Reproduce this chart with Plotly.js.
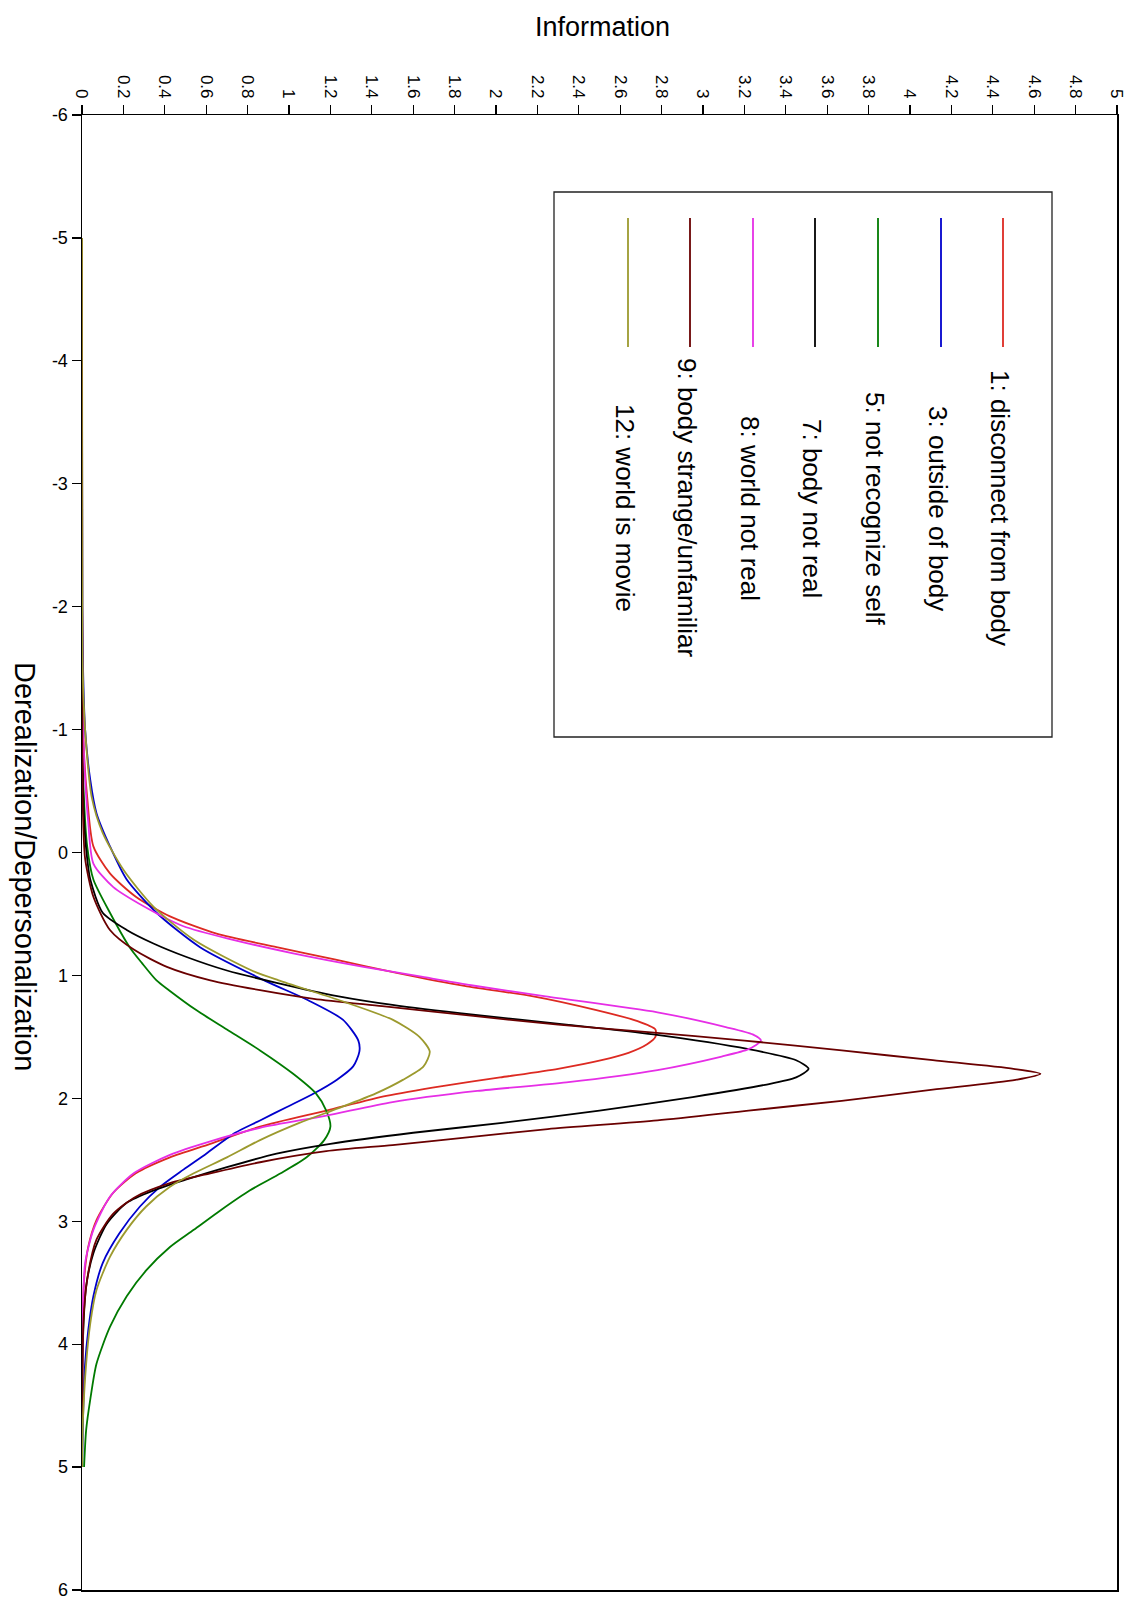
<!DOCTYPE html>
<html>
<head>
<meta charset="utf-8">
<script src="https://cdn.plot.ly/plotly-3.0.1.min.js"></script>
<style>
  html, body { margin: 0; padding: 0; background: #ffffff; }
  #chart { width: 1140px; height: 1606px; }
</style>
</head>
<body>
<div id="chart"></div>
<script>
// ---------------- data ----------------
const itemLabels = [
  "1: disconnect from body",
  "3: outside of body",
  "5: not recognize self",
  "7: body not real",
  "8: world not real",
  "9: body strange/unfamiliar",
  "12: world is movie"
];
const itemColors = ["#dd2a22", "#0000cc", "#007a00", "#000000", "#e62ee6", "#6a0000", "#9c9a2e"];

// item 1: disconnect from body
const theta1 = [-5, -2, -1.2, -0.8, -0.45, -0.05, 0.17, 0.36, 0.52, 0.66, 0.77, 0.87, 0.98, 1.09, 1.17, 1.28, 1.37, 1.44, 1.50, 1.56, 1.63, 1.69, 1.76, 1.83, 1.90, 1.98, 2.10, 2.23, 2.37, 2.48, 2.61, 2.77, 2.99, 3.21, 3.48, 3.9, 4.5, 5];
const info1  = [0, 0.001, 0.004, 0.01, 0.025, 0.055, 0.135, 0.26, 0.425, 0.65, 0.94, 1.22, 1.52, 1.86, 2.18, 2.48, 2.68, 2.77, 2.77, 2.73, 2.64, 2.51, 2.30, 2.02, 1.74, 1.47, 1.18, 0.86, 0.62, 0.425, 0.26, 0.15, 0.07, 0.03, 0.01, 0.003, 0.001, 0];

// item 3: outside of body
const theta3 = [-5, -2, -1.5, -1.0, -0.59, -0.32, -0.05, 0.22, 0.49, 0.77, 1.04, 1.20, 1.36, 1.53, 1.62, 1.74, 1.85, 1.96, 2.07, 2.18, 2.28, 2.45, 2.58, 2.72, 2.88, 3.10, 3.34, 3.61, 3.89, 4.16, 4.6, 5];
const info3  = [0, 0.001, 0.005, 0.015, 0.04, 0.07, 0.135, 0.216, 0.36, 0.57, 0.88, 1.09, 1.26, 1.335, 1.34, 1.31, 1.23, 1.12, 0.99, 0.86, 0.74, 0.60, 0.49, 0.377, 0.28, 0.18, 0.10, 0.055, 0.03, 0.015, 0.005, 0.001];

// item 5: not recognize self
const theta5 = [-5, -1.0, -0.5, -0.05, 0.22, 0.49, 0.77, 0.90, 1.04, 1.12, 1.28, 1.44, 1.61, 1.80, 1.96, 2.10, 2.23, 2.34, 2.48, 2.61, 2.75, 2.91, 3.07, 3.21, 3.40, 3.61, 3.86, 4.16, 4.45, 4.7, 5];
const info5  = [0, 0.002, 0.008, 0.025, 0.055, 0.135, 0.23, 0.29, 0.36, 0.42, 0.55, 0.70, 0.86, 1.02, 1.13, 1.18, 1.20, 1.17, 1.085, 0.96, 0.81, 0.67, 0.54, 0.425, 0.31, 0.216, 0.135, 0.07, 0.04, 0.02, 0.01];

// item 7: body not real
const theta7 = [-5, -1.5, -0.6, -0.2, 0.05, 0.22, 0.49, 0.63, 0.74, 0.85, 0.96, 1.06, 1.17, 1.24, 1.32, 1.40, 1.48, 1.60, 1.69, 1.76, 1.83, 1.89, 1.99, 2.10, 2.20, 2.28, 2.37, 2.45, 2.56, 2.66, 2.75, 2.85, 3.02, 3.26, 3.53, 3.9, 4.5, 5];
const info7  = [0, 0.001, 0.004, 0.012, 0.025, 0.04, 0.10, 0.216, 0.345, 0.505, 0.70, 0.94, 1.24, 1.50, 1.89, 2.34, 2.76, 3.22, 3.45, 3.51, 3.45, 3.30, 2.95, 2.50, 2.03, 1.60, 1.20, 0.94, 0.70, 0.505, 0.345, 0.216, 0.12, 0.055, 0.02, 0.006, 0.001, 0];

// item 8: world not real
const theta8 = [-5, -2, -1, -0.6, -0.25, 0.09, 0.28, 0.44, 0.60, 0.71, 0.82, 0.93, 1.01, 1.08, 1.17, 1.30, 1.42, 1.48, 1.53, 1.60, 1.66, 1.77, 1.87, 1.94, 2.03, 2.14, 2.24, 2.35, 2.46, 2.61, 2.80, 3.07, 3.34, 3.7, 4.3, 5];
const info8  = [0, 0.001, 0.005, 0.015, 0.03, 0.055, 0.15, 0.30, 0.49, 0.73, 1.02, 1.36, 1.64, 1.88, 2.24, 2.78, 3.11, 3.24, 3.28, 3.22, 3.09, 2.78, 2.34, 1.91, 1.50, 1.18, 0.86, 0.62, 0.425, 0.25, 0.135, 0.055, 0.015, 0.005, 0.001, 0];

// item 9: body strange/unfamiliar
const theta9 = [-5, -1, -0.3, 0.05, 0.36, 0.63, 0.79, 0.93, 1.04, 1.12, 1.19, 1.25, 1.33, 1.40, 1.46, 1.53, 1.61, 1.69, 1.76, 1.80, 1.85, 1.93, 2.02, 2.10, 2.18, 2.25, 2.32, 2.38, 2.43, 2.52, 2.61, 2.69, 2.80, 2.94, 3.15, 3.42, 3.72, 4.1, 5];
const info9  = [0, 0.001, 0.005, 0.015, 0.055, 0.135, 0.25, 0.41, 0.62, 0.86, 1.12, 1.45, 1.89, 2.30, 2.72, 3.20, 3.67, 4.11, 4.50, 4.63, 4.51, 4.11, 3.67, 3.22, 2.78, 2.25, 1.85, 1.50, 1.18, 0.86, 0.62, 0.425, 0.26, 0.15, 0.07, 0.03, 0.01, 0.002, 0];

// item 12: world is movie
const theta12 = [-5, -1.5, -1.0, -0.45, -0.16, 0.14, 0.44, 0.71, 0.96, 1.04, 1.20, 1.36, 1.50, 1.62, 1.74, 1.85, 1.96, 2.08, 2.20, 2.34, 2.48, 2.61, 2.72, 2.88, 3.07, 3.29, 3.56, 3.83, 4.16, 4.6, 5];
const info12  = [0, 0.003, 0.015, 0.047, 0.10, 0.20, 0.345, 0.54, 0.82, 0.95, 1.24, 1.50, 1.63, 1.68, 1.65, 1.55, 1.42, 1.24, 1.05, 0.86, 0.70, 0.54, 0.425, 0.31, 0.216, 0.135, 0.07, 0.04, 0.02, 0.005, 0];

const thetaSeries = [theta1, theta3, theta5, theta7, theta8, theta9, theta12];
const infoSeries  = [info1, info3, info5, info7, info8, info9, info12];

// axis ticks
const yTickVals = [-6, -5, -4, -3, -2, -1, 0, 1, 2, 3, 4, 5, 6];
const yTickText = ["-6", "-5", "-4", "-3", "-2", "-1", "0", "1", "2", "3", "4", "5", "6"];
const xTitle = "Information";
const yTitle = "Derealization/Depersonalization";

// ---------------- layout helpers (pixel -> paper) ----------------
const W = 1140, H = 1606;
const M = { l: 82, r: 23, t: 115, b: 16 };
const PW = W - M.l - M.r, PH = H - M.t - M.b;
const px = v => (v - M.l) / PW;
const py = v => (H - M.b - v) / PH;
const FONT = "Liberation Sans, Arial, Helvetica, sans-serif";

const traces = thetaSeries.map((th, i) => ({
  x: infoSeries[i],
  y: th,
  type: "scatter",
  mode: "lines",
  name: itemLabels[i],
  line: { color: itemColors[i], width: 1.8, shape: "spline", smoothing: 0.7 },
  hoverinfo: "skip"
}));

// legend (drawn rotated, as in the reference)
const legendLineX = [1003, 941, 878, 815, 753, 690, 628];
const shapes = [
  { type: "rect", xref: "paper", yref: "paper", x0: px(554), x1: px(1052), y0: py(737), y1: py(192),
    line: { color: "#222", width: 1.3 }, fillcolor: "rgba(0,0,0,0)" }
];
const annotations = [
  { text: xTitle, xref: "paper", yref: "paper", x: px(602), y: py(27), xanchor: "center", yanchor: "middle",
    showarrow: false, font: { family: FONT, size: 27, color: "#000" } },
  { text: yTitle, xref: "paper", yref: "paper", x: px(25), y: py(866), xanchor: "center", yanchor: "middle",
    textangle: 90, showarrow: false, font: { family: FONT, size: 29, color: "#000" } }
];
itemLabels.forEach((lab, i) => {
  shapes.push({ type: "line", xref: "paper", yref: "paper",
    x0: px(legendLineX[i]), x1: px(legendLineX[i]), y0: py(218), y1: py(347),
    line: { color: itemColors[i], width: 1.8 } });
  annotations.push({ text: lab, xref: "paper", yref: "paper",
    x: px(legendLineX[i] - 3), y: py(508), xanchor: "center", yanchor: "middle",
    textangle: 90, showarrow: false, font: { family: FONT, size: 26, color: "#000" } });
});

const layout = {
  width: W, height: H,
  margin: M,
  paper_bgcolor: "#ffffff",
  plot_bgcolor: "#ffffff",
  showlegend: false,
  xaxis: {
    side: "top", range: [0, 5], tick0: 0, dtick: 0.2, tickangle: 90,
    ticks: "outside", ticklen: 9, tickwidth: 1.3, tickcolor: "#000",
    showline: true, linecolor: "#000", linewidth: 1.5, mirror: true,
    showgrid: false, zeroline: false,
    tickfont: { family: FONT, size: 17, color: "#000" }
  },
  yaxis: {
    range: [6, -6], tickmode: "array", tickvals: yTickVals, ticktext: yTickText, tickangle: 0,
    ticks: "outside", ticklen: 9, tickwidth: 1.3, tickcolor: "#000",
    showline: true, linecolor: "#000", linewidth: 1.5, mirror: true,
    showgrid: false, zeroline: false,
    tickfont: { family: FONT, size: 18, color: "#000" }
  },
  shapes: shapes,
  annotations: annotations
};

Plotly.newPlot("chart", traces, layout, { displayModeBar: false, staticPlot: true });
</script>
</body>
</html>
